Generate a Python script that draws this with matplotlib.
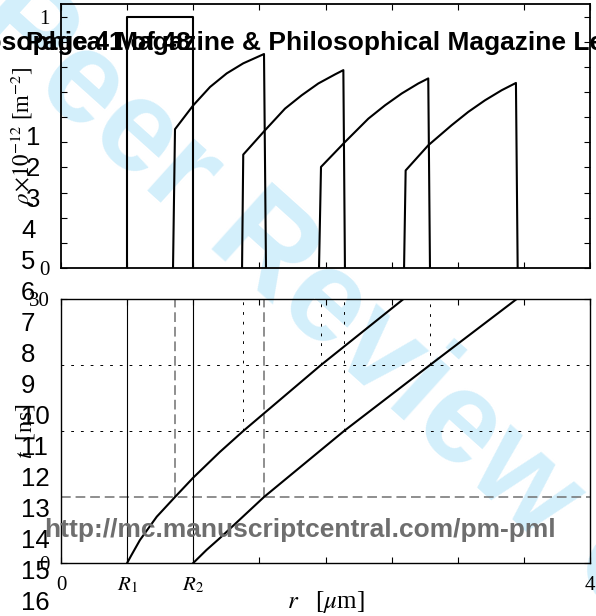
import matplotlib
matplotlib.use("Agg")
import matplotlib.pyplot as plt
import numpy as np

W, H = 596, 616

# top panel: dislocation density profiles (rho x 1e-12 m^-2) vs r [um]
prof0_r = [0.5, 0.5, 1.0, 1.0]
prof0_rho = [0.0, 1.0, 1.0, 0.0]
prof1_r = [0.847, 0.862, 1.000, 1.127, 1.253, 1.378, 1.535, 1.550]
prof1_rho = [0.0, 0.552, 0.647, 0.720, 0.774, 0.814, 0.851, 0.0]
prof2_r = [1.369, 1.378, 1.543, 1.694, 1.820, 1.946, 2.072, 2.135, 2.147]
prof2_rho = [0.0, 0.451, 0.548, 0.634, 0.687, 0.734, 0.770, 0.787, 0.0]
prof3_r = [1.951, 1.966, 2.147, 2.324, 2.450, 2.576, 2.702, 2.777, 2.790]
prof3_rho = [0.0, 0.402, 0.501, 0.594, 0.647, 0.694, 0.734, 0.754, 0.0]
prof4_r = [2.594, 2.606, 2.777, 2.954, 3.080, 3.206, 3.332, 3.440, 3.453]
prof4_rho = [0.0, 0.388, 0.488, 0.568, 0.621, 0.667, 0.707, 0.736, 0.0]

# bottom panel: front trajectories t [ns] vs r [um]
front1_r = [0.5, 0.529, 0.597, 0.724, 0.862, 1.0, 1.2, 1.378, 1.966, 2.59]
front1_t = [0, 0.8, 2.61, 5.26, 7.5, 9.7, 12.6, 15, 22.5, 30]
front2_r = [1.0, 1.10, 1.20, 1.535, 2.14, 2.79, 3.446]
front2_t = [0, 1.48, 2.81, 7.5, 15, 22.5, 30]

snap_t = [7.5, 15, 22.5]
snap_left = [0.862, 1.378, 1.966]
snap_right = [1.535, 2.14, 2.79]
R1, R2 = 0.5, 1.0

xticks = np.arange(0, 4.01, 0.5)
xlabels_bottom = ['0', '$R_1$', '$R_2$', '', '', '', '', '', '4']

plt.rcParams['font.family'] = ['Liberation Serif', 'DejaVu Serif']
plt.rcParams['mathtext.fontset'] = 'stix'
plt.rcParams['lines.scale_dashes'] = False

fig = plt.figure(figsize=(W / 100, H / 100), dpi=100)


def px(x, y):
    return x / W, 1 - y / H


ax1 = fig.add_axes([61 / W, 1 - 268 / H, 529 / W, 264 / H])
ax2 = fig.add_axes([61 / W, 1 - 563 / H, 529 / W, 264 / H])

for r, rho in [(prof0_r, prof0_rho), (prof1_r, prof1_rho), (prof2_r, prof2_rho),
               (prof3_r, prof3_rho), (prof4_r, prof4_rho)]:
    ax1.plot(r, rho, color='black', lw=1.5, zorder=3)

ax1.set_xlim(0, 4)
ax1.set_ylim(0, 1.05)
ax1.set_xticks(xticks)
ax1.set_xticklabels([])
ax1.set_yticks(np.arange(0, 1.01, 0.1))
ax1.set_yticklabels(['0'] + [''] * 9 + ['1'])
ax1.tick_params(direction='in', top=True, right=True, length=4, width=0.8,
                labelsize=15, pad=8)
for s in ax1.spines.values():
    s.set_linewidth(1.3)
ax1.set_ylabel(r'$\rho\!\times\!10^{-12}$ [m$^{-2}$]', fontsize=16.5)
ax1.yaxis.set_label_coords(-0.046, 0.5)

# bottom panel guide lines
ax2.axhline(snap_t[0], color='#707070', lw=1.1, dashes=(7, 3.5), zorder=1)
for t in snap_t[1:]:
    ax2.axhline(t, color='black', lw=0.7, dashes=(2, 5), zorder=1)
ax2.vlines([snap_left[0], snap_right[0]], snap_t[0], 30, color='#707070',
           lw=1.1, linestyles=[(0, (7, 3.5))], zorder=1)
for i in range(1, 3):
    ax2.vlines([snap_left[i], snap_right[i]], snap_t[i], 30, color='black',
               lw=0.7, linestyles=[(0, (2, 5))], zorder=1)
ax2.axvline(R1, color='black', lw=0.8, zorder=2)
ax2.axvline(R2, color='black', lw=0.8, zorder=2)

ax2.plot(front1_r, front1_t, color='black', lw=1.5, zorder=3)
ax2.plot(front2_r, front2_t, color='black', lw=1.5, zorder=3)

ax2.set_xlim(0, 4)
ax2.set_ylim(0, 30)
ax2.set_xticks(xticks)
ax2.set_xticklabels(xlabels_bottom)
ax2.set_yticks([0, 30])
ax2.set_yticklabels(['0', '30'])
ax2.tick_params(direction='in', top=True, right=True, length=4, width=0.8,
                labelsize=15)
ax2.tick_params(axis='y', pad=8)
ax2.tick_params(axis='x', pad=9)
for s in ax2.spines.values():
    s.set_linewidth(1.0)
ax2.set_ylabel('$t$  [ns]', fontsize=17)
ax2.yaxis.set_label_coords(-0.046, 0.5)
ax2.set_xlabel(r'$r$   [$\mu$m]', fontsize=18)
ax2.xaxis.set_label_coords(0.5, -0.1)

# page decorations of the manuscript proof
sans = ['Liberation Sans', 'DejaVu Sans']
fig.text(*px(-216, -136), 'For Peer Review Only', family=sans, weight='bold',
         fontsize=94, color='#d3effb', rotation=-42, rotation_mode='anchor',
         ha='left', va='baseline', zorder=0)

fig.text(*px(-63, 50), 'Philosophical Magazine & Philosophical Magazine Letters',
         family=sans, weight='bold', fontsize=19, color='black',
         ha='left', va='baseline', zorder=10)
fig.text(*px(26, 50), 'Page 41 of 48', family=sans, weight='bold',
         fontsize=18.5, color='black', ha='left', va='baseline', zorder=10)

for n in range(1, 17):
    x0 = 26 if n <= 3 else 21
    fig.text(*px(x0, 138 + 31 * (n - 1)), str(n), family=sans, fontsize=18.5,
             color='black', ha='left', va='center', zorder=10)

fig.text(*px(300, 537), 'http://mc.manuscriptcentral.com/pm-pml', family=sans,
         weight='bold', fontsize=19, color='#6e6e6e', ha='center',
         va='baseline', zorder=10)

ax1.set_zorder(2)
ax2.set_zorder(2)
ax1.patch.set_alpha(0)
ax2.patch.set_alpha(0)

fig.savefig('out.png', dpi=100)
